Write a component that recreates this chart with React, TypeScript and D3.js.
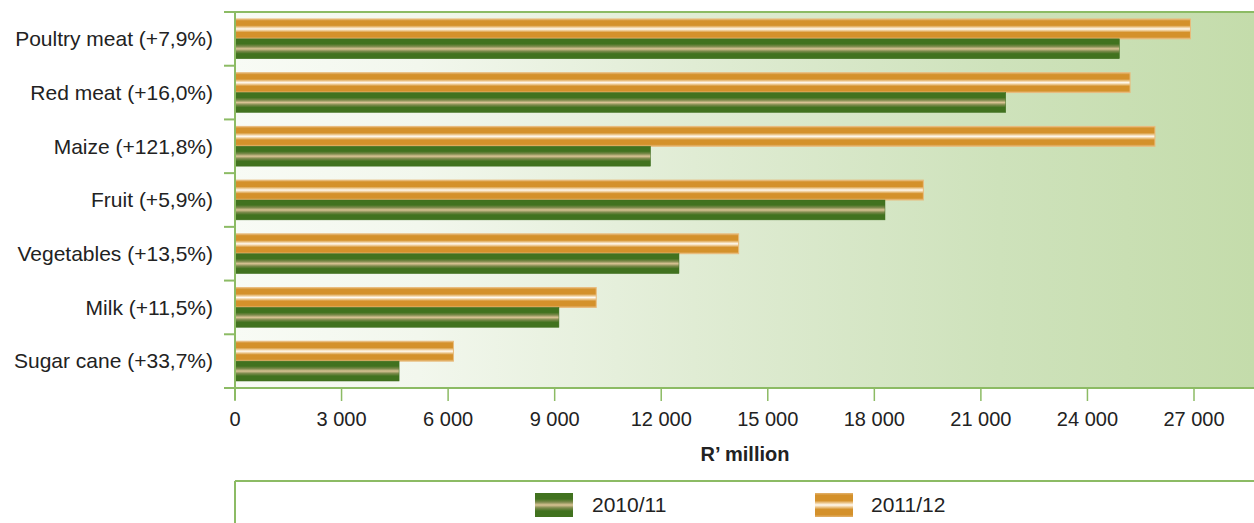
import React from "react";
import * as d3 from "d3";

const categories = ["Poultry meat (+7,9%)", "Red meat (+16,0%)", "Maize (+121,8%)", "Fruit (+5,9%)", "Vegetables (+13,5%)", "Milk (+11,5%)", "Sugar cane (+33,7%)"];
const values2010 = [24900, 21700, 11700, 18300, 12500, 9120, 4620];
const values2011 = [26900, 25200, 25900, 19380, 14180, 10170, 6150];
const tickValues = [0, 3000, 6000, 9000, 12000, 15000, 18000, 21000, 24000, 27000];
const seriesNames = ["2010/11", "2011/12"];

const W = 1254, H = 523;
const left = 235, right = 1254, top = 12, bottom = 388;
const font = "'Liberation Sans', Arial, sans-serif";
const axisColor = "#8cbb64";

export default function App() {
  const x = d3.scaleLinear().domain([0, 27000]).range([left, 1194]);
  const y = d3.scaleBand<string>().domain(categories).range([top, bottom]).paddingInner(0.26).paddingOuter(0.13);
  const bw = y.bandwidth() / 2;
  const fmt = (v: number) => (v === 0 ? "0" : d3.format(",")(v).replace(/,/g, " "));
  const boundaries = d3.range(categories.length + 1).map((i) => top + (i * (bottom - top)) / categories.length);
  return (
    <svg width={W} height={H} style={{ position: "absolute", left: 0, top: 0, display: "block" }} fontFamily={font}>
      <defs>
        <linearGradient id="bg" x1="0" x2="1" y1="0" y2="0">
          <stop offset="0" stopColor="#f8fbf5" />
          <stop offset="0.18" stopColor="#f2f7ed" />
          <stop offset="0.45" stopColor="#e0ecd4" />
          <stop offset="0.75" stopColor="#cee2bb" />
          <stop offset="1" stopColor="#c4dcab" />
        </linearGradient>
        <linearGradient id="gOr" x1="0" x2="0" y1="0" y2="1">
          <stop offset="0" stopColor="#e3b36f" />
          <stop offset="0.1" stopColor="#d4912b" />
          <stop offset="0.32" stopColor="#d4912b" />
          <stop offset="0.43" stopColor="#f1d3a4" />
          <stop offset="0.5" stopColor="#fffaf2" />
          <stop offset="0.57" stopColor="#f1d3a4" />
          <stop offset="0.68" stopColor="#d4912b" />
          <stop offset="0.9" stopColor="#d4912b" />
          <stop offset="1" stopColor="#e3b36f" />
        </linearGradient>
        <linearGradient id="gGr" x1="0" x2="0" y1="0" y2="1">
          <stop offset="0" stopColor="#41721f" />
          <stop offset="0.25" stopColor="#41721f" />
          <stop offset="0.38" stopColor="#7d8a4c" />
          <stop offset="0.5" stopColor="#d9c394" />
          <stop offset="0.62" stopColor="#7d8a4c" />
          <stop offset="0.75" stopColor="#41721f" />
          <stop offset="1" stopColor="#41721f" />
        </linearGradient>
      </defs>
      <rect x={left} y={top} width={right - left} height={bottom - top} fill="url(#bg)" />
      {categories.map((c, i) => (
        <g key={c}>
          <rect x={x(0)} y={y(c)!} width={x(values2011[i]) - x(0)} height={bw} fill="url(#gOr)" stroke="#e8bb7c" strokeWidth={1} />
          <rect x={x(0)} y={y(c)! + bw} width={x(values2010[i]) - x(0)} height={bw} fill="url(#gGr)" stroke="#3f6e1e" strokeWidth={0.5} />
          <text x={213} y={y(c)! + bw} dy="0.35em" textAnchor="end" fontSize={21} fill="#222">{c}</text>
        </g>
      ))}
      <line x1={left} x2={right} y1={top} y2={top} stroke={axisColor} strokeWidth={2} />
      <line x1={left} x2={right} y1={bottom} y2={bottom} stroke={axisColor} strokeWidth={2} />
      <line x1={left} x2={left} y1={top} y2={bottom + 12} stroke={axisColor} strokeWidth={2} />
      {boundaries.map((b, i) => (
        <line key={i} x1={224} x2={left} y1={b} y2={b} stroke={axisColor} strokeWidth={2} />
      ))}
      {tickValues.map((t) => (
        <g key={t}>
          <line x1={x(t)} x2={x(t)} y1={bottom} y2={bottom + 13} stroke={axisColor} strokeWidth={1.5} />
          <text x={x(t)} y={419} dy="0.35em" textAnchor="middle" fontSize={20} fill="#222">{fmt(t)}</text>
        </g>
      ))}
      <text x={745} y={454} dy="0.35em" textAnchor="middle" fontSize={20} fontWeight="bold" fill="#222">R’ million</text>
      <line x1={left} x2={right} y1={481} y2={481} stroke={axisColor} strokeWidth={2} />
      <line x1={left} x2={left} y1={481} y2={H} stroke={axisColor} strokeWidth={2} />
      <rect x={535} y={493} width={38} height={24} fill="url(#gGr)" />
      <text x={592} y={505} dy="0.35em" fontSize={21} fill="#222">{seriesNames[0]}</text>
      <rect x={815} y={493} width={38} height={24} fill="url(#gOr)" />
      <text x={871} y={505} dy="0.35em" fontSize={21} fill="#222">{seriesNames[1]}</text>
    </svg>
  );
}
